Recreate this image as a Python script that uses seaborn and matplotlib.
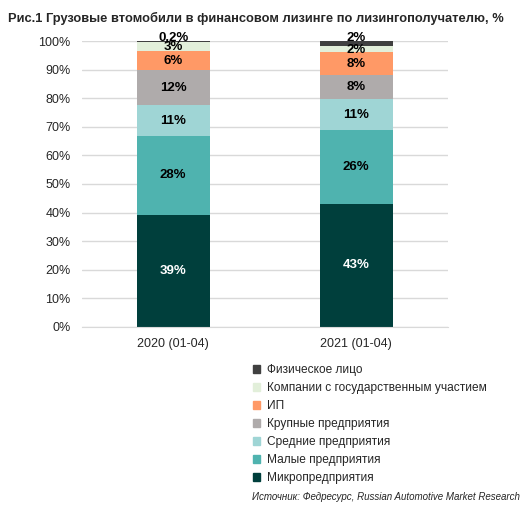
import numpy as np
import pandas as pd
import seaborn as sns
import matplotlib.pyplot as plt
from matplotlib.patches import Patch

periods = ["2020 (01-04)", "2021 (01-04)"]
segments = ["Микропредприятия", "Малые предприятия", "Средние предприятия",
            "Крупные предприятия", "ИП", "Компании с государственным участием",
            "Физическое лицо"]
micro = [39.2, 43.0]
small = [27.6, 25.9]
medium = [10.8, 10.8]
large = [12.3, 8.4]
ip = [6.6, 8.1]
gov = [3.3, 2.1]
phys = [0.2, 1.7]
labels_2020 = ["39%", "28%", "11%", "12%", "6%", "3%", "0,2%"]
labels_2021 = ["43%", "26%", "11%", "8%", "8%", "2%", "2%"]

colors = ["#003f3c", "#4fb3af", "#9fd5d5", "#afabab", "#ff9966", "#e2efda", "#404040"]
text_colors = ["white", "black", "black", "black", "black", "black", "black"]

series = [micro, small, medium, large, ip, gov, phys]
rows = []
for seg, vals in zip(segments, series):
    for p, v in zip(periods, vals):
        rows.append({"period": p, "segment": seg, "value": v})
df = pd.DataFrame(rows)

sns.set_style("white")
plt.rcParams['font.family'] = ['Liberation Sans', 'DejaVu Sans']

fig = plt.figure(figsize=(5.29, 5.13), dpi=100)
ax = fig.add_axes([0.1544, 0.3632, 0.6919, 0.5563])

bottom = np.zeros(len(periods))
for i, seg in enumerate(segments):
    d = df[df["segment"] == seg]
    sns.barplot(data=d, x="period", y="value", order=periods, color=colors[i],
                width=0.4, bottom=bottom, ax=ax, saturation=1, linewidth=0)
    for j, v in enumerate(d["value"].values):
        lab = [labels_2020, labels_2021][j][i]
        y = bottom[j] + v / 2
        # small top segments: labels pushed up like in the original
        if seg == "Физическое лицо":
            y = 101.3
        elif seg == "Компании с государственным участием" and j == 1:
            y = 96.8
        ax.text(j, y, lab, ha="center", va="center", fontsize=9.5,
                fontweight="bold", color=text_colors[i], clip_on=False)
    bottom += d["value"].values

ax.set_xlim(-0.5, 1.5)
ax.set_ylim(0, 100)
ax.set_yticks(range(0, 101, 10))
ax.set_yticklabels([f"{t}%" for t in range(0, 101, 10)], fontsize=9)
ax.tick_params(axis="x", labelsize=9, length=0, pad=8)
ax.tick_params(axis="y", length=0, pad=8)
ax.set_xlabel("")
ax.set_ylabel("")
ax.yaxis.grid(True, color="#d9d9d9", linewidth=1)
ax.set_axisbelow(True)
for s in ["top", "right", "left"]:
    ax.spines[s].set_visible(False)
ax.spines["bottom"].set_color("#d9d9d9")

handles = [Patch(color=c, label=s) for c, s in zip(colors, segments)][::-1]
fig.legend(handles=handles, loc="upper left", bbox_to_anchor=(0.469, 0.299),
           frameon=False, fontsize=8.6, handlelength=0.6, handleheight=0.6,
           handletextpad=0.55, labelspacing=0.5, borderaxespad=0)

fig.text(0.015, 0.977, "Рис.1 Грузовые втомобили в финансовом лизинге по лизингополучателю, %",
         fontsize=9.3, fontweight="bold", ha="left", va="top")
fig.text(0.982, 0.031, "Источник: Федресурс, Russian Automotive Market Research",
         fontsize=7.0, style="italic", ha="right", va="center")

fig.savefig("out.png", dpi=100)
